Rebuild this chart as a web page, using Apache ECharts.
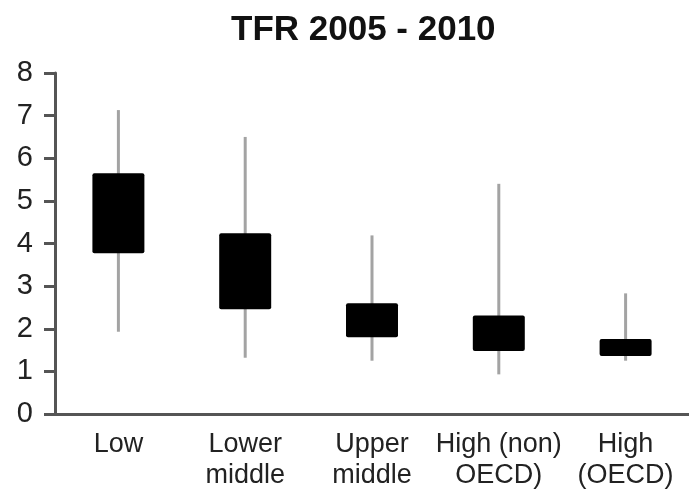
<!DOCTYPE html>
<html>
<head>
<meta charset="utf-8">
<script src="https://cdn.jsdelivr.net/npm/echarts@6/dist/echarts.min.js"></script>
<style>html,body{margin:0;padding:0;background:#fff;}#c{width:689px;height:496px;}</style>
</head>
<body>
<div id="c"></div>
<script>
const categories = ['Low', 'Lower\nmiddle', 'Upper\nmiddle', 'High (non)\nOECD)', 'High\n(OECD)'];
const whiskerLow = [1.93, 1.32, 1.25, 0.93, 1.25];
const boxLow = [3.77, 2.46, 1.80, 1.48, 1.36];
const boxHigh = [5.65, 4.24, 2.60, 2.31, 1.76];
const whiskerHigh = [7.13, 6.50, 4.19, 5.40, 2.83];
const yTicks = [0, 1, 2, 3, 4, 5, 6, 7, 8];

const data = categories.map((c, i) => [i, whiskerLow[i], boxLow[i], boxHigh[i], whiskerHigh[i]]);

const chart = echarts.init(document.getElementById('c'), null, {renderer: 'canvas'});
chart.setOption({
  animation: false,
  backgroundColor: '#ffffff',
  title: {
    text: 'TFR 2005 - 2010',
    left: 226,
    top: 8,
    textStyle: {fontFamily: 'Liberation Sans, Arial, sans-serif', fontSize: 35, fontWeight: 'bold', color: '#111'}
  },
  grid: {left: 55, right: 0, top: 73, bottom: 82},
  xAxis: {
    type: 'category',
    data: categories,
    axisLine: {lineStyle: {color: '#555', width: 3}},
    axisTick: {length: 6, lineStyle: {color: '#444', width: 2}},
    axisLabel: {fontFamily: 'Liberation Sans, Arial, sans-serif', fontSize: 27, color: '#222', lineHeight: 31, margin: 15, interval: 0}
  },
  yAxis: {
    type: 'value',
    min: yTicks[0],
    max: yTicks[yTicks.length - 1],
    interval: 1,
    axisLine: {show: true, lineStyle: {color: '#555', width: 3}},
    axisTick: {show: true, length: 11, lineStyle: {color: '#555', width: 3}},
    splitLine: {show: false},
    axisLabel: {fontFamily: 'Liberation Sans, Arial, sans-serif', fontSize: 29, color: '#222', margin: 22}
  },
  series: [{
    type: 'custom',
    data: data,
    encode: {x: 0, y: [1, 2, 3, 4]},
    renderItem: function (params, api) {
      const i = api.value(0);
      const lo = api.coord([i, api.value(1)]);
      const q1 = api.coord([i, api.value(2)]);
      const q3 = api.coord([i, api.value(3)]);
      const hi = api.coord([i, api.value(4)]);
      const w = api.size([1, 0])[0] * 0.41;
      return {
        type: 'group',
        children: [
          {type: 'line', shape: {x1: lo[0], y1: lo[1], x2: hi[0], y2: hi[1]}, style: {stroke: '#a3a3a3', lineWidth: 3}},
          {type: 'rect', shape: {x: q3[0] - w / 2, y: q3[1], width: w, height: q1[1] - q3[1], r: 2}, style: {fill: '#000'}}
        ]
      };
    }
  }]
});
</script>
</body>
</html>
